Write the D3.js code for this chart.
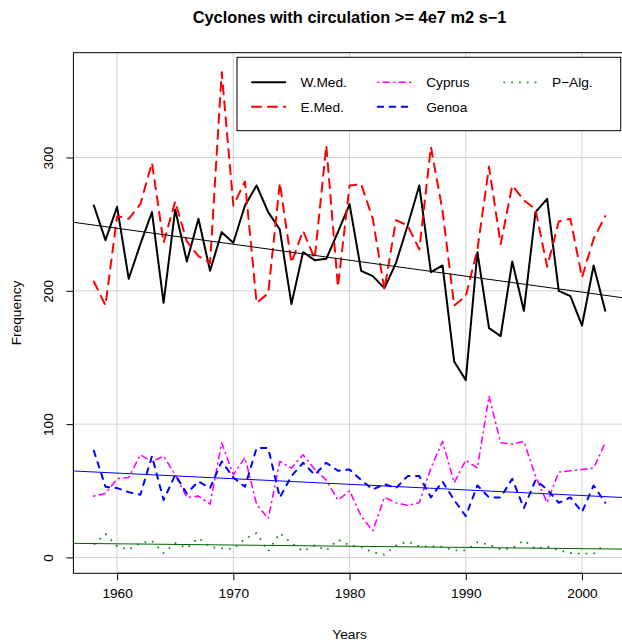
<!DOCTYPE html>
<html>
<head>
<meta charset="utf-8">
<script src="https://cdn.jsdelivr.net/npm/d3@7/dist/d3.min.js"></script>
<style>
  html, body { margin: 0; padding: 0; background: #ffffff; }
  svg { display: block; font-family: "Liberation Sans", Arial, Helvetica, sans-serif; }
</style>
</head>
<body>
<svg id="chart" width="622" height="642"></svg>
<script>
// ---------- data ----------
const years = [1958,1959,1960,1961,1962,1963,1964,1965,1966,1967,1968,1969,1970,1971,1972,1973,1974,1975,1976,1977,1978,1979,1980,
               1981,1982,1983,1984,1985,1986,1987,1988,1989,1990,1991,1992,1993,1994,1995,1996,1997,1998,1999,2000,2001,2002];

const wMed   = [264,238,263,209,235,259,191,261,222,254,215,244,236,264,279,259,246,190,229,223,224,244,265,
                215,211,202,221,249,279,214,219,147,133,229,172,166,222,185,259,269,200,196,174,219,185];
const eMed   = [207,189,256,254,265,296,236,267,237,226,221,364,264,282,191,198,281,221,245,224,309,203,279,
                280,254,201,253,249,231,308,260,189,196,231,293,235,279,268,261,218,252,254,210,239,256];
const cyprus = [46,48,59,60,77,72,76,62,45,46,40,86,62,75,40,29,72,67,77,66,58,43,50,
                31,20,45,41,39,41,67,87,56,73,67,121,86,85,87,61,41,64,65,66,67,86];
const genoa  = [80,53,52,49,47,76,43,62,48,57,52,72,60,53,82,82,45,61,71,62,71,65,66,
                58,51,55,52,61,61,45,57,43,31,54,45,45,59,37,58,51,41,45,34,54,41];
const pAlg   = [9.6,17.6,8.3,5.8,10.8,12.3,3.3,10.8,7,14.6,7.9,6.8,6.4,13.9,18.3,4.6,18.3,10.8,4.6,9.1,5.3,13.3,9,
                7.9,3.8,2.1,8.9,12,8.3,8.3,8,5.3,5.3,11.4,9.6,5.9,7,12.8,6.4,8.3,5.3,3.3,2.8,2.8,10.1];

// trend lines: value at first year and at last year
const trendWMed  = [249.3, 196.6];
const trendGenoa = [64.1, 45.6];
const trendPAlg  = [10.4, 6.4];

const xTicks = [1960, 1970, 1980, 1990, 2000];
const yTicks = [0, 100, 200, 300];

const seriesNames = ["W.Med.", "E.Med.", "Cyprus", "Genoa", "P\u2212Alg."];
const titleText = "Cyclones with circulation >= 4e7 m2 s\u22121";

// ---------- styles ----------
const styles = {
  "W.Med.":  {color: "#000000", width: 2,   dash: null,        cap: "round"},
  "E.Med.":  {color: "#FF0000", width: 2,   dash: "9,7",       cap: "round"},
  "Cyprus":  {color: "#FF00FF", width: 1.6, dash: "1,4.5,6,4.5", cap: "round"},
  "Genoa":   {color: "#0000FF", width: 2,   dash: "5.5,6.5",   cap: "round"},
  "P\u2212Alg.": {color: "#228B22", width: 1.8, dash: "1.8,6",  cap: "butt"}
};
const seriesData = [wMed, eMed, cyprus, genoa, pAlg];

// ---------- layout ----------
const plot = {left: 73.4, right: 625.7, top: 52.7, bottom: 573.3};
const fontBase = 13.7;

const x = d3.scaleLinear().domain([1956.24, 2003.76]).range([plot.left, plot.right]);
const y = d3.scaleLinear().domain([-11.9, 378.6]).range([plot.bottom, plot.top]);

const svg = d3.select("#chart");

svg.append("defs").append("clipPath").attr("id", "clip")
  .append("rect")
  .attr("x", plot.left).attr("y", plot.top)
  .attr("width", plot.right - plot.left).attr("height", plot.bottom - plot.top);

// grid
const grid = svg.append("g").attr("clip-path", "url(#clip)");
grid.selectAll(".gx").data(xTicks).join("line")
  .attr("x1", d => x(d)).attr("x2", d => x(d))
  .attr("y1", plot.top).attr("y2", plot.bottom)
  .attr("stroke", "#d3d3d3").attr("stroke-width", 1);
grid.selectAll(".gy").data(yTicks).join("line")
  .attr("x1", plot.left).attr("x2", plot.right)
  .attr("y1", d => y(d)).attr("y2", d => y(d))
  .attr("stroke", "#d3d3d3").attr("stroke-width", 1);

// series lines
const lineGen = d3.line().x(d => x(d[0])).y(d => y(d[1]));
const gLines = svg.append("g").attr("clip-path", "url(#clip)");
seriesNames.forEach((name, i) => {
  const st = styles[name];
  const pts = years.map((yr, j) => [yr, seriesData[i][j]]);
  gLines.append("path")
    .datum(pts)
    .attr("d", lineGen)
    .attr("fill", "none")
    .attr("stroke", st.color)
    .attr("stroke-width", st.width)
    .attr("stroke-linejoin", "round")
    .attr("stroke-linecap", st.cap)
    .attr("stroke-dasharray", st.dash);
});

// trend lines (extended across the full plot like abline)
const trends = [
  {vals: trendWMed, color: "#000000"},
  {vals: trendGenoa, color: "#0000FF"},
  {vals: trendPAlg, color: "#006400"}
];
const y0 = years[0], y1 = years[years.length - 1];
trends.forEach(t => {
  const slope = (t.vals[1] - t.vals[0]) / (y1 - y0);
  const dom = x.domain();
  const pts = dom.map(yr => [yr, t.vals[0] + slope * (yr - y0)]);
  gLines.append("path")
    .datum(pts)
    .attr("d", lineGen)
    .attr("fill", "none")
    .attr("stroke", t.color)
    .attr("stroke-width", 1);
});

// box
svg.append("rect")
  .attr("x", plot.left).attr("y", plot.top)
  .attr("width", plot.right - plot.left).attr("height", plot.bottom - plot.top)
  .attr("fill", "none").attr("stroke", "#000").attr("stroke-width", 1);

// x axis
const xAxis = d3.axisBottom(x).tickValues(xTicks).tickSize(7).tickPadding(8).tickFormat(d3.format("d"));
const gx = svg.append("g").attr("transform", `translate(0,${plot.bottom})`).call(xAxis);
gx.select(".domain").attr("d", `M${x(xTicks[0])},0H${x(xTicks[xTicks.length-1])}`);
gx.selectAll("text").attr("font-size", fontBase).attr("fill", "#000")
  .attr("font-family", "Liberation Sans, Arial, sans-serif");

// y axis
const yAxis = d3.axisLeft(y).tickValues(yTicks).tickSize(7).tickFormat(d3.format("d"));
const gy = svg.append("g").attr("transform", `translate(${plot.left},0)`).call(yAxis);
gy.select(".domain").attr("d", `M0,${y(yTicks[0])}V${y(yTicks[yTicks.length-1])}`);
gy.selectAll("text")
  .attr("font-size", fontBase).attr("fill", "#000")
  .attr("font-family", "Liberation Sans, Arial, sans-serif")
  .attr("x", null).attr("dy", null)
  .attr("text-anchor", "middle")
  .attr("transform", "translate(-20.5,0) rotate(-90)");

// title
svg.append("text")
  .attr("x", (plot.left + plot.right) / 2).attr("y", 22.5)
  .attr("text-anchor", "middle")
  .attr("font-size", 16.4).attr("font-weight", "bold")
  .text(titleText);

// axis titles
svg.append("text")
  .attr("x", (plot.left + plot.right) / 2).attr("y", 639)
  .attr("text-anchor", "middle").attr("font-size", fontBase)
  .text("Years");
svg.append("text")
  .attr("transform", `translate(20.5,${(plot.top + plot.bottom) / 2}) rotate(-90)`)
  .attr("text-anchor", "middle").attr("font-size", fontBase)
  .text("Frequency");

// legend
const legend = svg.append("g");
legend.append("rect")
  .attr("x", 237).attr("y", 57.3).attr("width", 620.7 - 237).attr("height", 130.7 - 57.3)
  .attr("fill", "#fff").attr("stroke", "#000").attr("stroke-width", 1);
const legPos = [
  {col: 0, row: 0}, {col: 0, row: 1},
  {col: 1, row: 0}, {col: 1, row: 1},
  {col: 2, row: 0}
];
const colX = [252, 377.7, 503.4];
const rowY = [82.3, 106.7];
seriesNames.forEach((name, i) => {
  const st = styles[name];
  const p = legPos[i];
  const lx = colX[p.col], ly = rowY[p.row];
  legend.append("line")
    .attr("x1", lx).attr("x2", lx + 33.3)
    .attr("y1", ly).attr("y2", ly)
    .attr("stroke", st.color).attr("stroke-width", st.width)
    .attr("stroke-linecap", st.cap)
    .attr("stroke-dasharray", st.dash);
  legend.append("text")
    .attr("x", lx + 48.5).attr("y", ly + 5)
    .attr("font-size", fontBase)
    .text(name);
});
</script>
</body>
</html>
